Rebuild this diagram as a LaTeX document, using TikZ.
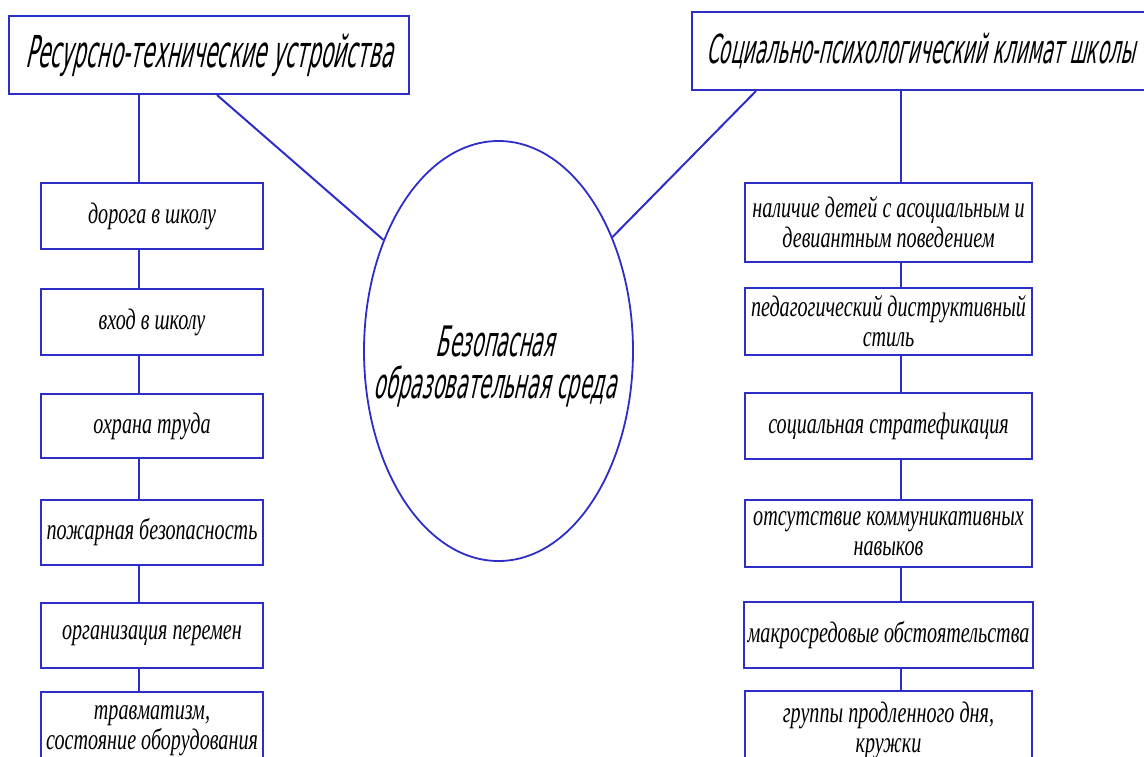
\documentclass[tikz,border=0pt]{standalone}
\usepackage{fontspec}
\usetikzlibrary{shapes.geometric}
\newfontfamily\gostfont{DejaVu Sans}[FakeStretch=0.46,FakeSlant=0.22]
\newfontfamily\itemfont{Liberation Serif}[FakeStretch=0.68]
\definecolor{frameblue}{RGB}{45,45,200}
\tikzset{
  link/.style={frameblue, line width=1pt},
  headbox/.style={draw=frameblue, line width=1pt, fill=white, minimum height=39pt,
    font=\gostfont\fontsize{22}{24}\selectfont},
  itembox/.style={draw=frameblue, line width=1pt, fill=white, inner sep=2pt, align=center,
    font=\itemfont\itshape\fontsize{14.8}{15}\selectfont},
  leftbox/.style={itembox, minimum width=111pt, minimum height=33pt},
  rightbox/.style={itembox, minimum width=143.5pt, minimum height=33pt},
  envshape/.style={draw=frameblue, line width=0.9pt, ellipse, inner sep=0pt,
    minimum width=134.5pt, minimum height=210pt},
}

\begin{document}
\begin{tikzpicture}[x=0.5pt,y=-0.5pt]
      \useasboundingbox (0,0) rectangle (1144,756);
      \coordinate (lspine) at (139,0);
      \coordinate (rspine) at (901,0);
      \coordinate (ldiag) at (217,0);
      \coordinate (rdiag) at (756,0);

      \node[headbox, minimum width=200pt] (hl) at (209,55) {Ресурсно-технические устройства};
      \node[headbox, anchor=west, inner xsep=7pt, font=\gostfont\fontsize{20}{24}\selectfont] (hr) at (691,51)
        {Социально-психологический климат школы};

      \node[envshape] (env) at (498.5,351) {};
      \node[font=\gostfont\fontsize{21}{21}\selectfont, align=center] (envtext) at (495,367)
        {Безопасная\\образовательная среда};

      % left column
      \node[leftbox] (l1) at (152,216) {дорога в школу};
      \node[leftbox] (l2) at (152,322) {вход в школу};
      \node[leftbox, minimum height=32pt] (l3) at (152,426) {охрана труда};
      \node[leftbox, minimum height=32.5pt] (l4) at (152,532.5) {пожарная безопасность};
      \node[leftbox, minimum height=32.5pt] (l5) at (152,635.5) {организация перемен};
      \node[leftbox, minimum height=39pt] (l6) at (152,731) {травматизм,\\состояние оборудования};

      % right column
      \node[rightbox, minimum height=39.5pt] (r1) at (888.5,222.5) {наличие детей с асоциальным и\\девиантным поведением};
      \node[rightbox, minimum height=33.5pt] (r2) at (888.5,321.5) {педагогический диструктивный\\стиль};
      \node[rightbox] (r3) at (888.5,426) {социальная стратефикация};
      \node[rightbox, minimum height=33.5pt] (r4) at (888.5,533.5) {отсутствие коммуникативных\\навыков};
      \node[rightbox] (r5) at (888.5,635) {макросредовые обстоятельства};
      \node[rightbox, minimum height=39pt] (r6) at (888.5,730) {группы продленного дня,\\кружки};

      \draw[link] (hl.south -| lspine) -- (l1.north -| lspine);
      \draw[link] (hr.south -| rspine) -- (r1.north -| rspine);
      \foreach \p/\q in {1/2,2/3,3/4,4/5,5/6}
      {
       \draw[link] (l\p.south -| lspine) -- (l\q.north -| lspine);
       \draw[link] (r\p.south -| rspine) -- (r\q.north -| rspine);
      }

      \draw[link] (hl.south -| ldiag) -- (env.136);
      \draw[link] (hr.south -| rdiag) -- (env.45);
\end{tikzpicture}
\end{document}
